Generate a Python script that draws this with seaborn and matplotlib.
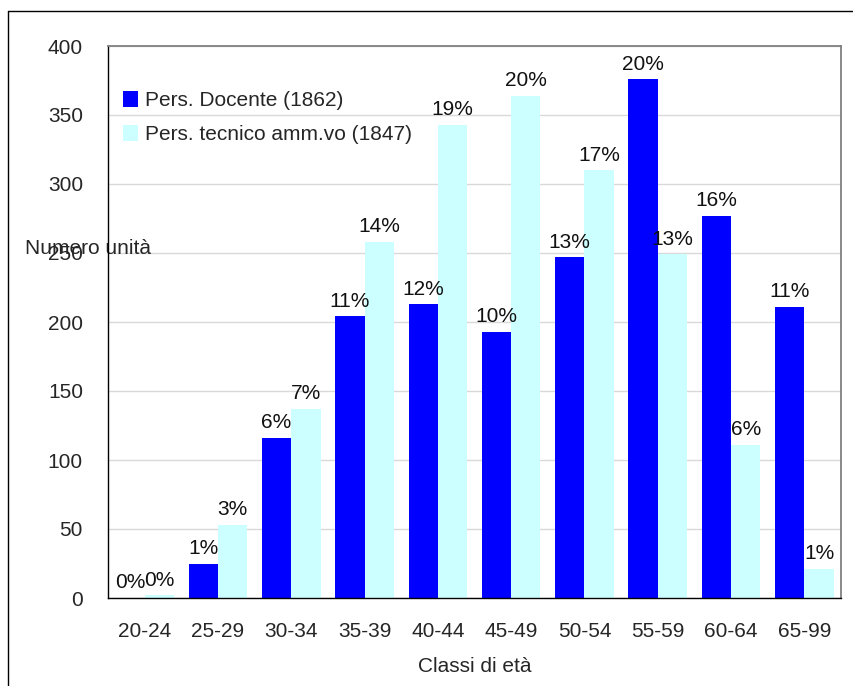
import numpy as np
import pandas as pd
import matplotlib
matplotlib.use('Agg')
import matplotlib.pyplot as plt
import seaborn as sns
from matplotlib.lines import Line2D

classi = ['20-24', '25-29', '30-34', '35-39', '40-44', '45-49', '50-54', '55-59', '60-64', '65-99']
docente = [0, 25, 116, 204, 213, 193, 247, 376, 277, 211]
tecnico = [2, 53, 137, 258, 343, 364, 310, 249, 111, 21]
perc_docente = ['0%', '1%', '6%', '11%', '12%', '10%', '13%', '20%', '16%', '11%']
perc_tecnico = ['0%', '3%', '7%', '14%', '19%', '20%', '17%', '13%', '6%', '1%']
serie = ['Pers. Docente (1862)', 'Pers. tecnico amm.vo (1847)']
colori = ['#0000FF', '#CCFFFF']

df = pd.DataFrame({
    'Classe': classi * 2,
    'Valore': docente + tecnico,
    'Serie': [serie[0]] * len(classi) + [serie[1]] * len(classi),
})

sns.set_style('white')
plt.rcParams['font.family'] = ['Liberation Sans', 'DejaVu Sans']

fig = plt.figure(figsize=(8.54, 6.86), dpi=100)
ax = fig.add_axes([108 / 854, 88 / 686, 733 / 854, 552 / 686])

sns.barplot(data=df, x='Classe', y='Valore', hue='Serie', palette=colori,
            width=0.8, saturation=1, linewidth=0, ax=ax)

for cont, perc in zip(ax.containers, [perc_docente, perc_tecnico]):
    ax.bar_label(cont, labels=perc, padding=4, fontsize=15, color='#111111')

ax.set_ylim(0, 400)
ax.set_xlim(-0.5, len(classi) - 0.5)
ax.set_yticks(range(0, 401, 50))
ax.set_xticks(np.arange(-0.5, len(classi), 1), minor=True)
ax.tick_params(axis='x', which='major', length=0, pad=17, labelsize=15)
ax.tick_params(axis='x', which='minor', length=8, color='black', width=1, direction='out')
ax.tick_params(axis='y', length=6, color='black', width=1, direction='out', pad=12, labelsize=15)

ax.yaxis.grid(True, color='#D9D9D9', linewidth=1)
ax.set_axisbelow(True)
for s in ['left', 'bottom']:
    ax.spines[s].set_color('black')
    ax.spines[s].set_linewidth(1)
for s in ['top', 'right']:
    ax.spines[s].set_color('#808080')
    ax.spines[s].set_linewidth(1.3)

ax.set_xlabel('Classi di età', fontsize=15, labelpad=12)
ax.set_ylabel('Numero unità', fontsize=15, rotation=0, ha='left', va='center')
ax.yaxis.set_label_coords(-0.1132, 0.634)

handles, labels = ax.get_legend_handles_labels()
ax.legend(handles, labels, loc='upper left', bbox_to_anchor=(0.02, 0.918),
          frameon=False, fontsize=15, handlelength=0.75, handleheight=0.75,
          handletextpad=0.3, labelspacing=0.72, borderpad=0, borderaxespad=0)

# cornice esterna del grafico
fig.add_artist(Line2D([8 / 854, 8 / 854], [0, 1 - 11 / 686], color='black', lw=1, transform=fig.transFigure))
fig.add_artist(Line2D([8 / 854, 1], [1 - 11 / 686, 1 - 11 / 686], color='black', lw=1, transform=fig.transFigure))

fig.savefig('out.png', dpi=100)
